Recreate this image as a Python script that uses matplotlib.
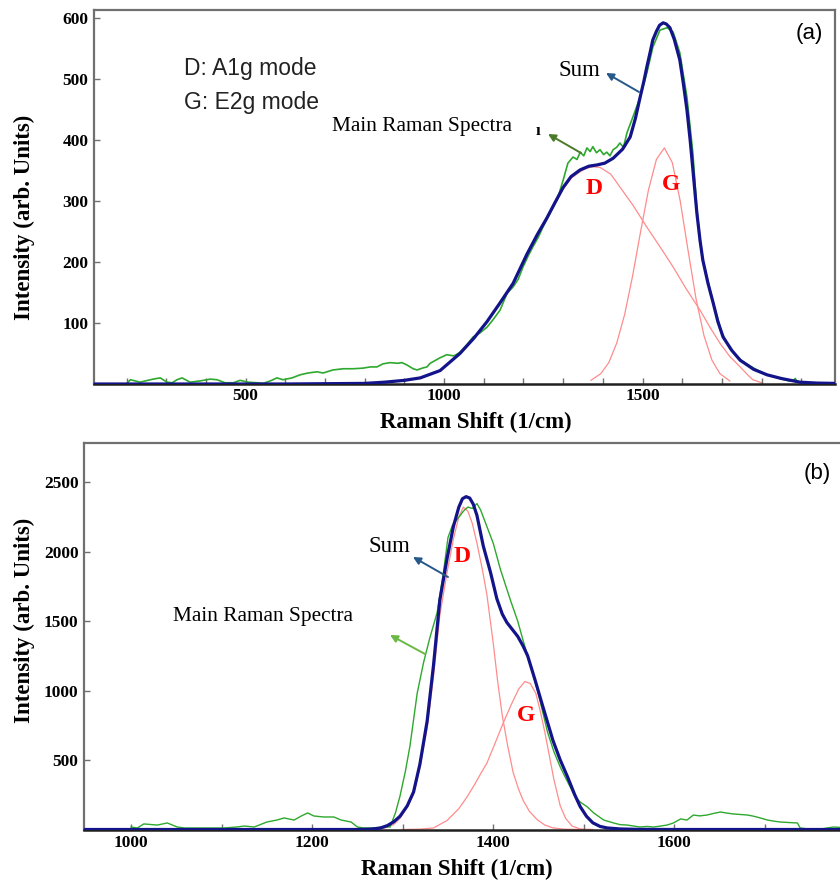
import matplotlib
matplotlib.use("Agg")
import matplotlib.pyplot as plt
from matplotlib.ticker import MultipleLocator, FixedLocator

# ---------------- data ----------------
# (a) top panel
sum_a_x = [118, 600, 700, 800, 850, 900, 940, 990, 1040, 1075, 1108, 1140, 1174, 1209, 1235,
           1259, 1280, 1300, 1320, 1343, 1365, 1385, 1405, 1426, 1450, 1469, 1482, 1494, 1503,
           1511, 1519, 1526, 1535, 1543, 1552, 1560, 1569, 1580, 1594, 1603, 1612, 1620, 1627,
           1637, 1645, 1652, 1665, 1678, 1690, 1703, 1725, 1746, 1780, 1814, 1850, 1897, 1940, 1985]
sum_a_y = [0, 0, 0.5, 1, 3, 6, 10, 22, 50, 75, 102, 132, 165, 213, 245,
           272, 298, 322, 340, 351, 357, 359, 362, 370, 385, 405, 435, 470, 495,
           520, 543, 564, 578, 588, 592, 590, 584, 565, 531, 492, 449, 400, 351,
           280, 235, 203, 165, 133, 102, 77, 55, 39, 24, 15, 9, 3, 1.5, 1]

d_a_x = [700, 800, 850, 900, 940, 990, 1040, 1075, 1108, 1140, 1174, 1209, 1235, 1259, 1280,
         1300, 1320, 1343, 1360, 1375, 1393, 1420, 1443, 1477, 1511, 1545, 1577, 1610, 1645,
         1670, 1695, 1720, 1746, 1765, 1778, 1800]
d_a_y = [0, 1, 3, 6, 10, 22, 50, 75, 102, 132, 165, 213, 245, 272, 298,
         320, 337, 348, 354, 356, 355, 344, 323, 292, 257, 224, 192, 156, 121,
         93, 67, 45, 28, 15, 7, 2]

g_a_x = [1370, 1395, 1415, 1435, 1455, 1475, 1495, 1515, 1535, 1555, 1575, 1595, 1615, 1635,
         1655, 1675, 1695, 1720]
g_a_y = [6, 17, 35, 67, 114, 177, 249, 318, 368, 387, 363, 300, 218, 139, 79, 39, 17, 5]

raw_a_x = [202, 210, 234, 267, 285, 302, 315, 327, 340, 360, 385, 411, 428, 448, 469, 486, 506,
           529, 544, 562, 579, 594, 617, 637, 657, 680, 695, 720, 746, 771, 796, 814, 831, 846,
           864, 882, 894, 907, 922, 932, 945, 957, 965, 990, 1007, 1025, 1040, 1057, 1073, 1091,
           1108, 1123, 1141, 1159, 1174, 1187, 1199, 1212, 1224, 1237, 1249, 1267, 1285, 1300,
           1312, 1325, 1335, 1343, 1352, 1360, 1368, 1375, 1384, 1393, 1402, 1410, 1418, 1426,
           1435, 1443, 1452, 1461, 1476, 1494, 1511, 1526, 1544, 1562, 1577, 1594, 1612, 1627,
           1637, 1650, 1680, 1700, 1720, 1750, 1780, 1810, 1840, 1870, 1880, 1885, 1890, 1900]
raw_a_y = [2, 7, 3, 8, 10, 3, 2, 7, 10, 3, 5, 8, 7, 2, 2, 6, 3,
           2, 1, 5, 10, 7, 10, 15, 18, 20, 18, 23, 25, 25, 26, 28, 28, 33,
           35, 34, 35, 31, 25, 23, 26, 28, 34, 43, 48, 46, 52, 64, 77, 84,
           93, 105, 121, 149, 159, 172, 192, 210, 225, 240, 257, 280, 302, 334,
           362, 372, 368, 380, 374, 387, 381, 389, 379, 384, 376, 380, 374, 384,
           388, 395, 388, 412, 438, 470, 510, 552, 580, 584, 577, 543, 470, 378,
           285, 208, 128, 84, 58, 38, 26, 16, 10, 5, 6, 9, 3, 2]

# (b) bottom panel
sum_b_x = [948, 1250, 1265, 1275, 1283, 1290, 1297, 1305, 1312, 1319, 1327, 1334, 1341, 1349,
           1356, 1362, 1366, 1370, 1374, 1378, 1382, 1389, 1397, 1404, 1410, 1415, 1421, 1427,
           1433, 1438, 1446, 1455, 1466, 1474, 1482, 1490, 1496, 1503, 1510, 1518, 1526, 1540,
           1560, 1600, 1783]
sum_b_y = [0, 0, 3, 10, 28, 55, 95, 170, 270, 470, 780, 1180, 1650, 1950,
           2180, 2320, 2380, 2395, 2385, 2340, 2260, 2040, 1850, 1660, 1550, 1490, 1440, 1390,
           1320, 1250, 1080, 880, 640, 500, 380, 250, 165, 95, 48, 22, 11, 4,
           1, 0, 0]

d_b_x = [1250, 1270, 1280, 1290, 1297, 1305, 1312, 1319, 1327, 1334, 1341, 1349, 1356, 1362,
         1367, 1372, 1377, 1382, 1388, 1393, 1400, 1405, 1410, 1416, 1422, 1428, 1433, 1440,
         1449, 1457, 1466, 1480, 1500]
d_b_y = [0, 3, 10, 35, 80, 160, 255, 450, 730, 1100, 1540, 1850, 2090, 2250,
         2320, 2290, 2200, 2060, 1870, 1690, 1340, 1060, 820, 600, 410, 290, 210, 130,
         68, 32, 11, 2, 0]

g_b_x = [1300, 1320, 1334, 1349, 1362, 1371, 1380, 1386, 1393, 1402, 1411, 1420, 1428, 1435,
         1441, 1447, 1452, 1457, 1462, 1467, 1474, 1480, 1487, 1496, 1510]
g_b_y = [0, 3, 11, 65, 150, 234, 330, 400, 478, 620, 766, 900, 1010, 1065,
         1050, 980, 850, 700, 530, 360, 170, 80, 25, 4, 0]

raw_b_x = [1000, 1007, 1014, 1029, 1040, 1051, 1059, 1073, 1088, 1103, 1117, 1125, 1136, 1150,
           1161, 1169, 1180, 1188, 1195, 1202, 1213, 1224, 1232, 1243, 1250, 1257, 1268, 1277,
           1286, 1292, 1297, 1303, 1308, 1316, 1323, 1330, 1338, 1345, 1350, 1355, 1360, 1367,
           1372, 1377, 1382, 1386, 1393, 1400, 1408, 1419, 1427, 1433, 1441, 1449, 1460, 1467,
           1474, 1480, 1485, 1490, 1496, 1504, 1511, 1522, 1533, 1540, 1548, 1555, 1562, 1570,
           1577, 1585, 1592, 1599, 1607, 1614, 1621, 1628, 1636, 1643, 1651, 1658, 1665, 1673,
           1681, 1688, 1695, 1703, 1710, 1717, 1727, 1736, 1739, 1747, 1759, 1769, 1776, 1783]
raw_b_y = [18, 11, 40, 32, 47, 18, 11, 11, 11, 11, 18, 25, 18, 54,
           68, 83, 68, 97, 119, 97, 90, 90, 68, 54, 18, 11, 11, 18,
           18, 120, 240, 420, 600, 980, 1200, 1380, 1560, 1850, 2100, 2190, 2230, 2290,
           2320, 2310, 2345, 2300, 2180, 2060, 1870, 1650, 1500, 1360, 1180, 1000, 700, 560,
           450, 370, 306, 240, 198, 162, 119, 68, 47, 35, 32, 25, 18, 22,
           18, 25, 32, 47, 76, 68, 104, 98, 104, 115, 126, 118, 112, 108,
           104, 95, 83, 68, 60, 54, 50, 47, 11, 4, 0, 11, 18, 15]

# ---------------- styling ----------------
W, H = 840, 888
SERIF = ["Liberation Serif", "DejaVu Serif"]
SANS = ["Liberation Sans", "DejaVu Sans"]
NAVY = "#14148a"
RED = "#ff8c8c"
GREEN = "#2ea82e"
FRAME = "#707070"


def fp(x, y):
    # pixel position -> figure fraction
    return (x / W, 1 - y / H)


def style_axes(ax):
    for side in ["top", "left", "right"]:
        ax.spines[side].set_color(FRAME)
        ax.spines[side].set_linewidth(1.6)
    ax.spines["bottom"].set_color("#202020")
    ax.spines["bottom"].set_linewidth(1.8)
    ax.tick_params(which="both", direction="in", color=FRAME, top=False, right=False)
    ax.tick_params(which="major", length=4, width=1, pad=4)
    ax.tick_params(which="minor", length=4, width=1)
    for lab in ax.get_xticklabels() + ax.get_yticklabels():
        lab.set_family(SERIF)
        lab.set_fontweight("bold")
        lab.set_fontsize(12.5)


fig = plt.figure(figsize=(W / 100, H / 100), dpi=100)

# ---------------- panel (a) ----------------
ax1 = fig.add_axes([94 / W, 1 - 384 / H, (835 - 94) / W, (384 - 10) / H])
ax1.plot(raw_a_x, raw_a_y, color=GREEN, lw=1.2, zorder=2)
ax1.plot(d_a_x, d_a_y, color=RED, lw=0.9, zorder=1)
ax1.plot(g_a_x, g_a_y, color=RED, lw=0.9, zorder=1)
ax1.plot(sum_a_x, sum_a_y, color=NAVY, lw=2.3, zorder=3)
ax1.set_xlim(118, 1985)
ax1.set_ylim(0, 613)
ax1.xaxis.set_major_locator(FixedLocator([500, 1000, 1500]))
ax1.xaxis.set_minor_locator(MultipleLocator(100))
ax1.yaxis.set_major_locator(FixedLocator([100, 200, 300, 400, 500, 600]))
style_axes(ax1)
ax1.tick_params(axis="x", pad=3)

# ---------------- panel (b) ----------------
ax2 = fig.add_axes([84 / W, 1 - 829.5 / H, (840 - 84) / W, (829.5 - 443) / H])
ax2.plot(raw_b_x, raw_b_y, color=GREEN, lw=1.0, zorder=2)
ax2.plot(d_b_x, d_b_y, color=RED, lw=0.9, zorder=1)
ax2.plot(g_b_x, g_b_y, color=RED, lw=0.9, zorder=1)
ax2.plot(sum_b_x, sum_b_y, color=NAVY, lw=2.3, zorder=3)
ax2.set_xlim(948, 1783)
ax2.set_ylim(0, 2781)
ax2.xaxis.set_major_locator(FixedLocator([1000, 1200, 1400, 1600]))
ax2.xaxis.set_minor_locator(MultipleLocator(100))
ax2.yaxis.set_major_locator(FixedLocator([500, 1000, 1500, 2000, 2500]))
style_axes(ax2)
ax2.spines["right"].set_visible(False)

# ---------------- axis labels ----------------
lab_kw = dict(family=SERIF, fontweight="bold", fontsize=16.5, ha="center", va="center")
fig.text(*fp(24, 217), "Intensity (arb. Units)", rotation=90, **lab_kw)
fig.text(*fp(24, 620), "Intensity (arb. Units)", rotation=90, **lab_kw)
fig.text(*fp(476, 422), "Raman Shift (1/cm)", **lab_kw)
fig.text(*fp(457, 869), "Raman Shift (1/cm)", **lab_kw)

# ---------------- annotations (a) ----------------
fig.text(*fp(184, 68), "D: A1g mode", family=SANS, fontsize=16.5, color="#222222", va="center")
fig.text(*fp(184, 103), "G: E2g mode", family=SANS, fontsize=16.5, color="#222222", va="center")
fig.text(*fp(332, 126), "Main Raman Spectra", family=SERIF, fontsize=15.3, va="center")
fig.text(*fp(538, 131), "ı", family=SERIF, fontsize=12, fontweight="bold", ha="center", va="center")
fig.text(*fp(579, 71), "Sum", family=SERIF, fontsize=16.5, ha="center", va="center")
fig.text(*fp(594, 188), "D", family=SERIF, fontsize=17, fontweight="bold", color="red",
         ha="center", va="center")
fig.text(*fp(671, 184), "G", family=SERIF, fontsize=17, fontweight="bold", color="red",
         ha="center", va="center")
fig.text(*fp(809, 34), "(a)", family=SANS, fontsize=16, ha="center", va="center")

fig.add_artist(plt.Annotation("", xy=fp(548, 134), xytext=fp(581, 153),
                              xycoords="figure fraction", textcoords="figure fraction",
                              arrowprops=dict(arrowstyle="-|>", color="#4a7a2a", lw=1.4,
                                              mutation_scale=11, shrinkA=0, shrinkB=0)))
fig.add_artist(plt.Annotation("", xy=fp(606, 73), xytext=fp(639, 92),
                              xycoords="figure fraction", textcoords="figure fraction",
                              arrowprops=dict(arrowstyle="-|>", color="#26588a", lw=1.4,
                                              mutation_scale=11, shrinkA=0, shrinkB=0)))

# ---------------- annotations (b) ----------------
fig.text(*fp(817, 473), "(b)", family=SANS, fontsize=16, ha="center", va="center")
fig.text(*fp(389, 546), "Sum", family=SERIF, fontsize=16.5, ha="center", va="center")
fig.text(*fp(263, 616), "Main Raman Spectra", family=SERIF, fontsize=15.3, ha="center", va="center")
fig.text(*fp(462, 556), "D", family=SERIF, fontsize=17, fontweight="bold", color="red",
         ha="center", va="center")
fig.text(*fp(526, 715), "G", family=SERIF, fontsize=17, fontweight="bold", color="red",
         ha="center", va="center")

fig.add_artist(plt.Annotation("", xy=fp(413, 557), xytext=fp(448, 577),
                              xycoords="figure fraction", textcoords="figure fraction",
                              arrowprops=dict(arrowstyle="-|>", color="#26588a", lw=1.4,
                                              mutation_scale=11, shrinkA=0, shrinkB=0)))
fig.add_artist(plt.Annotation("", xy=fp(390, 635), xytext=fp(425, 654),
                              xycoords="figure fraction", textcoords="figure fraction",
                              arrowprops=dict(arrowstyle="-|>", color="#6ab845", lw=1.4,
                                              mutation_scale=11, shrinkA=0, shrinkB=0)))

fig.savefig("out.png", dpi=100)
